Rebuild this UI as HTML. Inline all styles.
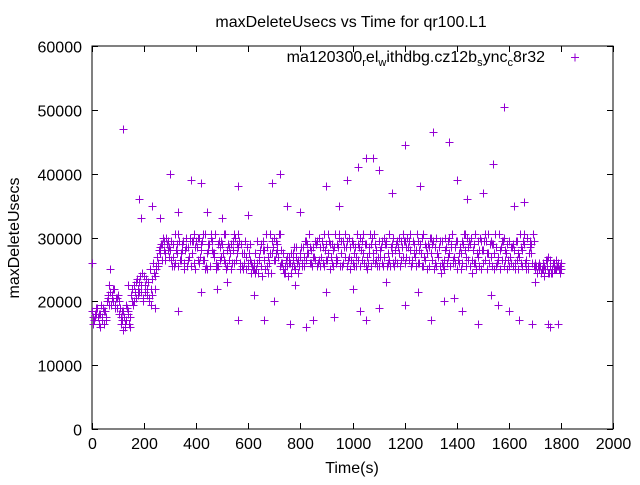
<!DOCTYPE html>
<html><head><meta charset="utf-8"><style>
body{margin:0;background:#fff}
svg text{font-family:"Liberation Sans",sans-serif;font-size:16px;fill:#000}
</style></head><body>
<svg id="chart" width="640" height="480" xmlns="http://www.w3.org/2000/svg">
<text x="351" y="27" text-anchor="middle">maxDeleteUsecs vs Time for qr100.L1</text>
<text transform="translate(19,238) rotate(-90)" text-anchor="middle">maxDeleteUsecs</text>
<text x="352" y="473" text-anchor="middle">Time(s)</text>
<g id="axes"></g>
<g id="points"></g>
<g>
<text x="545" y="62" text-anchor="end">ma120300<tspan font-size="11" dy="4">r</tspan><tspan dy="-4">el</tspan><tspan font-size="11" dy="4">w</tspan><tspan dy="-4">ithdbg.cz12b</tspan><tspan font-size="11" dy="4">s</tspan><tspan dy="-4">ync</tspan><tspan font-size="11" dy="4">c</tspan><tspan dy="-4">8r32</tspan></text>
<path d="M571 57.5h8M575 53.5v8" stroke="#9400d3" stroke-width="1"/>
</g>
</svg>
<script>
const xTicks=[0,200,400,600,800,1000,1200,1400,1600,1800,2000];
const yTicks=[0,10000,20000,30000,40000,50000,60000];
const trackA=[18500,17500,19000,18000,17000,18500,20500,21500,20000,19500,
21000,17500,18500,17000,18000,21000,22500,20500,23000,21500,
24000,22000,20000,23500,22000,27000,28500,29000,27500,29500,
28000,29000,26000,25500,27500,29500,30000,28500,25500,26000,
29500,30000,28000,26500,25000,29000,29500,27000,25500,28500,
29000,26000,25500,27500,29500,30000,28500,26000,25000,27000,
25500,24500,26000,25000,27000,29000,28000,25500,26000,29500,
30000,29000,25500,26000,24500,25500,26000,27500,25000,26500,
27000,28500,29500,27500,26000,28500,29000,30000,27000,25500,
29000,29500,26000,28500,29000,30000,25500,27000,29500,25000,
26000,28500,29000,30000,27500,25500,26000,29000,27500,26500,
25500,28500,30000,29000,26500,27500,25500,29500,30000,28500,
29500,30000,28000,26000,27000,29500,29000,25500,26500,29000,
30000,29500,25500,27000,24500,26500,28500,30000,29000,27000,
25000,26000,29500,28000,30000,29000,24500,26000,29500,30000,
28000,26500,27500,29500,29000,25500,26500,28500,30000,27500,
25500,26000,28000,29500,27000,25500,29000,30000,28500,26000,
25000,24500,25500,26000,25000,24500,25500,26000,25000,25500,25000];
const trackB=[17500,19000,18000,19500,16500,17500,19500,20500,22000,19000,
20000,18500,16000,19000,17500,20000,21500,22000,24000,20500,
21500,23000,19500,26000,25500,26000,29000,28000,30000,28500,
26500,25500,29000,29500,28000,26000,25500,29500,27500,28500,
30000,27000,26500,25000,29000,30000,27500,26000,25500,29500,
26500,25000,28500,29000,26000,27500,29500,25500,26000,28500,
26500,25500,24500,26000,28000,29500,25000,24500,27500,28500,
29500,27000,26000,25000,26500,27000,24500,25500,27000,25500,
25500,27000,29000,26000,25500,26500,29500,28500,26000,28000,
27500,29000,25500,27000,28500,29500,26000,28500,30000,26500,
25500,27000,28500,29500,26000,25000,27500,30000,26000,25500,
27000,29500,29000,26000,25500,30000,26500,28500,29500,27000,
28500,26500,25500,29000,28000,26000,30000,27000,25000,28500,
29000,26000,27500,25500,26000,28000,29500,25500,26500,28500,
26500,27500,29000,25500,28500,30000,26000,25000,28000,29500,
29500,25000,26000,29000,27500,26000,28000,29500,26500,25000,
27000,29000,26000,25000,28500,29500,26500,25000,27500,29500,
25500,25000,24500,25500,26500,24500,25000,26000,25500,24500];
const trackC=[16500,18000,17500,16000,19000,17000,21000,19500,22000,20500,
18000,16500,17500,19500,16500,22000,20000,23500,21500,24500,
22500,21000,25000,21000,24000,25500,27500,30000,26500,28000,
29500,27000,28000,30500,26500,25000,28500,27000,29500,30500,
28500,26000,29500,30500,27500,25500,28000,30500,29000,26500,
27500,30500,29000,25000,28000,26500,30500,29000,27500,25000,
27500,26000,25000,29500,26500,24000,26500,28500,30500,27500,
26500,28000,30500,27500,25500,24000,27500,26500,28500,24500,
28500,25500,26500,30500,28000,27000,25500,26500,29500,30500,
26500,25000,29000,30500,26500,25500,29500,30500,26500,28500,
29000,25500,26500,28000,30500,29000,28500,25500,30500,28000,
29500,26000,27000,25500,30500,29000,28000,26000,25500,30500,
26000,28500,30500,29500,25500,26000,27500,30500,28500,25500,
27500,25000,30000,28500,29500,25000,26000,27500,30500,26000,
29500,28500,26000,30500,26500,25500,28000,30500,27000,25000,
26000,29500,30500,27000,25000,28500,30500,26500,25500,29000,
29500,28500,25000,26500,30500,28000,26000,25500,29500,30500,
26000,25500,24500,25000,26500,27000,24500,25000,26500,25000,26000];
const trackD=[17000,18000,16500,17500,18500,20000,22500,21000,19000,20500,
19000,17000,16500,18500,16000,19500,23000,21000,22500,20000,
23500,20500,22000,24500,25000,28000,26500,29500,29000,27000,
25500,30500,27500,26500,29000,28000,26500,30000,29500,25000,
26500,29000,30500,25500,28000,30500,27500,25000,29500,27000,
30500,28000,26500,26000,30500,29000,25000,27500,29500,26000,
29000,25000,27500,24500,25500,28000,30500,27000,24500,26500,
27500,30500,28000,24500,27000,26000,25500,28500,26000,27500,
26000,29500,27500,28500,27000,29500,26000,25500,28500,26500,
30500,27000,28000,26000,30500,27500,28500,25500,27000,29500,
27500,30500,25500,26500,29000,27000,30500,26500,29000,27000,
28000,25500,29500,27500,28500,26000,29000,27500,26500,29500,
27000,29500,26500,27500,30500,28000,25500,29000,27500,30000,
26500,28500,27000,29500,25500,30000,27000,28500,26000,29500,
27500,25000,30500,27000,29500,26500,29000,27500,25500,28000,
30500,27500,29000,25500,30500,27000,25000,29500,28000,26500,
28500,25500,29500,27500,26000,30500,25000,27500,29000,25500,
24500,26000,25000,24000,25500,26500,24500,25000,26000,25500];
const outlierT=[0,120,180,190,230,260,300,330,380,420,440,500,560,600,690,720,750,800,850,900,950,980,1020,1050,1080,1100,1150,1200,1260,1310,1370,1400,1440,1500,1540,1580,1620,1660,1750,1790,560,660,760,820,930,1030,1050,1100,1200,1300,1350,1420,1480,1560,1640,1690,70,140,330,420,480,520,620,700,780,900,1000,1130,1250,1390,1530,1600,1700,120,240,1760];
const outlierV=[26000,47000,36000,33000,35000,33000,40000,34000,39000,38500,34000,33000,38000,33500,38500,40000,35000,34000,17000,38000,35000,39000,41000,42500,42500,40500,37000,44500,38000,46500,45000,39000,36000,37000,41500,50500,35000,35500,16500,16500,17000,17000,16500,16000,17500,18500,17000,19000,19500,17000,20000,18500,16500,19500,17000,16500,25000,22500,18500,21500,22000,23000,21000,20000,22500,21500,22000,23000,21500,20500,21000,18500,23000,15500,19000,16000];
const L=92,R=613,T=46,B=429;
const xs=v=>L+(v-0)/2000*(R-L);
const ys=v=>B-(v/60000)*(B-T);
const NS="http://www.w3.org/2000/svg";
const ax=document.getElementById('axes');
function mk(tag,attrs,parent){const e=document.createElementNS(NS,tag);for(const k in attrs)e.setAttribute(k,attrs[k]);parent.appendChild(e);return e;}
const border=mk('rect',{x:L,y:T,width:R-L,height:B-T,fill:'none',stroke:'#000','stroke-width':1},ax);


xTicks.forEach(t=>{const x=Math.round(xs(t))+0.5;
const tk=mk('path',{d:`M${x} ${B}v-6M${x} ${T}v6`,stroke:'#000'},ax);


const lb=mk('text',{x:x,y:B+20,'text-anchor':'middle'},ax);lb.textContent=t;

});
yTicks.forEach(t=>{const y=Math.round(ys(t))+0.5;
const tk=mk('path',{d:`M${L} ${y}h6M${R} ${y}h-6`,stroke:'#000'},ax);


const lb=mk('text',{x:L-10,y:y+6,'text-anchor':'end'},ax);lb.textContent=t;

});
const pg=document.getElementById('points');
let d='';
function plus(t,v){const x=Math.round(xs(t))+0.5,y=Math.round(ys(v))+0.5;d+=`M${x-4} ${y}h8M${x} ${y-4}v8`;}
trackA.forEach((v,i)=>plus(i*10,v));
trackB.forEach((v,i)=>plus(i*10+5,v));
trackC.forEach((v,i)=>plus(i*10+2,v));
trackD.forEach((v,i)=>plus(i*10+7,v));
outlierT.forEach((t,i)=>plus(t,outlierV[i]));
const p=mk('path',{d:d,stroke:'#9400d3','stroke-width':1,fill:'none'},pg);


</script>
</body></html>
